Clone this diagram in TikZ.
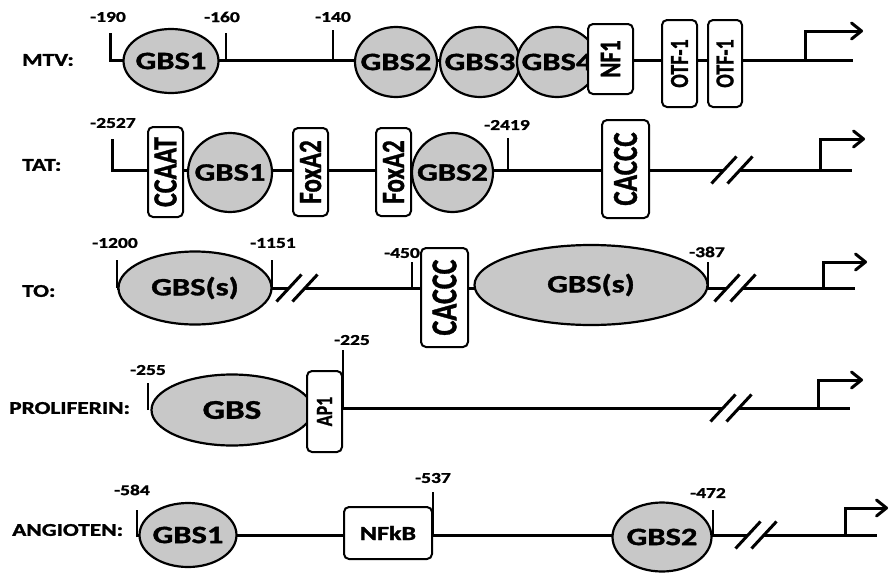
\documentclass[tikz,border=0pt]{standalone}
\usepackage{fontspec}
\usepackage{graphicx}
\setmainfont{Carlito}[BoldFeatures={FakeBold=1.2}]
\usetikzlibrary{shapes.geometric,arrows.meta}
\definecolor{gbsfill}{RGB}{200,200,200}
\newcommand{\hs}[1]{\scalebox{1.3}[1]{#1}}
\newcommand{\vs}[1]{\scalebox{1.3}[1]{\rotatebox{90}{#1}}}
\tikzset{
  dna/.style={line width=3pt,line join=miter},
  tickline/.style={line width=2.6pt},
  slash/.style={line width=3pt},
  tss/.style={line width=3pt,-{Straight Barb[length=10pt,width=16pt,round]}},
  gbs/.style n args={4}{ellipse,draw,line width=2.2pt,fill=gbsfill,inner sep=0pt,
    minimum width=#1pt,minimum height=#2pt,
    label={[inner sep=0pt,font=\bfseries\fontsize{#4}{#4}\selectfont]center:\hs{#3}}},
  sitebox/.style n args={4}{rectangle,draw,line width=2pt,fill=white,rounded corners=5pt,inner sep=0pt,
    minimum width=#1pt,minimum height=#2pt,
    label={[inner sep=0pt,font=\bfseries\fontsize{#4}{#4}\selectfont]center:\vs{#3}}},
  hbox/.style n args={4}{rectangle,draw,line width=2pt,fill=white,rounded corners=5pt,inner sep=0pt,
    minimum width=#1pt,minimum height=#2pt,
    label={[inner sep=0pt,font=\bfseries\fontsize{#4}{#4}\selectfont]center:\hs{#3}}},
  poslab/.style={font=\bfseries\fontsize{15}{15}\selectfont,inner sep=0pt},
  rowlab/.style={font=\bfseries\fontsize{18}{18}\selectfont,inner sep=0pt,anchor=west},
}
% tick: name, x, top y, line y, text, label x, label y
\newcommand{\tickmark}[7]{%
  \coordinate (#1t) at (#2,#3); \coordinate (#1b) at (#2,#4);
  \draw[tickline] (#1b) -- (#1t);
  \node[poslab] (#1l) at (#6,#7) {\hs{#5}};}
% break: name, centre x, line y
\newcommand{\brk}[3]{%
  \coordinate (#1c) at (#2,#3);
  \coordinate (#1l) at ([xshift=-8pt]#1c); \coordinate (#1r) at ([xshift=8pt]#1c);
  \draw[slash] ([shift={(-12.5,13.5)}]#1l) -- ([shift={(12.5,-13.5)}]#1l);
  \draw[slash] ([shift={(-12.5,13.5)}]#1r) -- ([shift={(12.5,-13.5)}]#1r);}
% promoter arrow: name, x, line y, top y, tip x
\newcommand{\tssarrow}[5]{%
  \coordinate (#1p) at (#2,#3); \coordinate (#1q) at (#2,#4); \coordinate (#1r) at (#5,#4);
  \draw[tss] (#1p) -- (#1q) -- (#1r);}
\begin{document}
\begin{tikzpicture}[x=1pt,y=-1pt]
\useasboundingbox (0,0) rectangle (891,573);

% ---------------- MTV ----------------
\node[rowlab] (lab1) at (22,60) {\hs{MTV:}};
\coordinate (r1s) at (110,33); \coordinate (r1c) at (110,60); \coordinate (r1e) at (853,60);
\draw[dna] (r1s) -- (r1c) -- (r1e);
\node[poslab] (r1sl) at (108,17) {\hs{-190}};
\tickmark{r1a}{226}{33}{60}{-160}{222}{17}
\tickmark{r1b}{333}{30}{60}{-140}{333}{17}
\tssarrow{r1x}{805}{60}{31}{863}
\node[gbs={95}{64}{GBS1}{25}] (m1) at (171,61) {};
\node[gbs={82}{70}{GBS2}{25}] (m2) at (396,62) {};
\node[gbs={80}{70}{GBS3}{25}] (m3) at (480,62) {};
\node[gbs={80}{70}{GBS4}{25}] (m4) at (557,62) {};
\node[sitebox={45}{70}{NF1}{23}] (nf1) at (610.5,59) {};
\node[sitebox={35}{87}{OTF-1}{20}] (otf1) at (679.5,63.5) {};
\node[sitebox={34}{87}{OTF-1}{20}] (otf2) at (725,63.5) {};

% ---------------- TAT ----------------
\node[rowlab] (lab2) at (22,165) {\hs{TAT:}};
\coordinate (r2s) at (112,139); \coordinate (r2c) at (112,170); \coordinate (r2e) at (852,170);
\brk{r2k}{732}{170}
\draw[dna] (r2s) -- (r2c) -- (r2kl);
\draw[dna] (r2kr) -- (r2e);
\node[poslab] (r2sl) at (113,123) {\hs{-2527}};
\tickmark{r2a}{508}{138}{170}{-2419}{507}{125}
\tssarrow{r2x}{820}{170}{139}{865}
\node[sitebox={35}{90}{CCAAT}{26}] (ccaat) at (165.5,172) {};
\node[gbs={84}{79}{GBS1}{25}] (t1) at (230,172.5) {};
\node[sitebox={35}{88}{FoxA2}{25}] (fox1) at (310.5,172) {};
\node[sitebox={35}{88}{FoxA2}{25}] (fox2) at (393.5,172) {};
\node[gbs={81}{79}{GBS2}{25}] (t2) at (452.5,172.5) {};
\node[sitebox={47}{98}{CACCC}{27}] (caccc1) at (625.5,169) {};

% ---------------- TO ----------------
\node[rowlab] (lab3) at (22,291) {\hs{TO:}};
\coordinate (r3s) at (117,288); \coordinate (r3e) at (855,288);
\brk{r3k}{297}{288}
\brk{r3m}{735}{288}
\draw[dna] (r3s) -- (r3kl);
\draw[dna] (r3kr) -- (r3ml);
\draw[dna] (r3mr) -- (r3e);
\tickmark{r3z}{117}{260}{288}{-1200}{115}{243}
\tickmark{r3a}{272}{260}{288}{-1151}{273}{243}
\tickmark{r3b}{412}{262}{288}{-450}{402}{253}
\tickmark{r3c}{708}{262}{288}{-387}{707}{252}
\tssarrow{r3x}{823}{288}{262}{867}
\node[gbs={153}{73}{GBS(s)}{25}] (o1) at (195,288) {};
\node[sitebox={47}{99}{CACCC}{28}] (caccc2) at (444.5,297.5) {};
\node[gbs={233}{80}{GBS(s)}{25}] (o2) at (591,285) {};

% ---------------- PROLIFERIN ----------------
\node[rowlab] (lab4) at (9,408) {\hs{PROLIFERIN:}};
\coordinate (r4s) at (343,408); \coordinate (r4e) at (850,408);
\brk{r4k}{731}{408}
\draw[dna] (r4s) -- (r4kl);
\draw[dna] (r4kr) -- (r4e);
\tickmark{r4z}{148}{383}{410}{-255}{148}{370}
\tickmark{r4a}{343}{350}{408}{-225}{352}{340}
\tssarrow{r4x}{818}{408}{380}{863}
\node[gbs={161}{71}{GBS}{27}] (p1) at (232,410) {};
\node[sitebox={35}{81}{AP1}{18}] (ap1) at (324.5,411.5) {};

% ---------------- ANGIOTEN ----------------
\node[rowlab] (lab5) at (12,530) {\hs{ANGIOTEN:}};
\coordinate (r5s) at (137,535); \coordinate (r5e) at (877,535);
\brk{r5k}{756}{535}
\draw[dna] (r5s) -- (r5kl);
\draw[dna] (r5kr) -- (r5e);
\tickmark{r5z}{137}{510}{537}{-584}{132}{490}
\tickmark{r5a}{433}{492}{535}{-537}{433}{478}
\tickmark{r5b}{713}{510}{535}{-472}{708}{493}
\tssarrow{r5x}{845}{535}{508}{888}
\node[gbs={97}{64}{GBS1}{25}] (a1) at (188,535) {};
\node[hbox={88}{52}{NFkB}{20}] (nfkb) at (388,533) {};
\node[gbs={99}{69}{GBS2}{25}] (a2) at (662,537) {};
\end{tikzpicture}
\end{document}
